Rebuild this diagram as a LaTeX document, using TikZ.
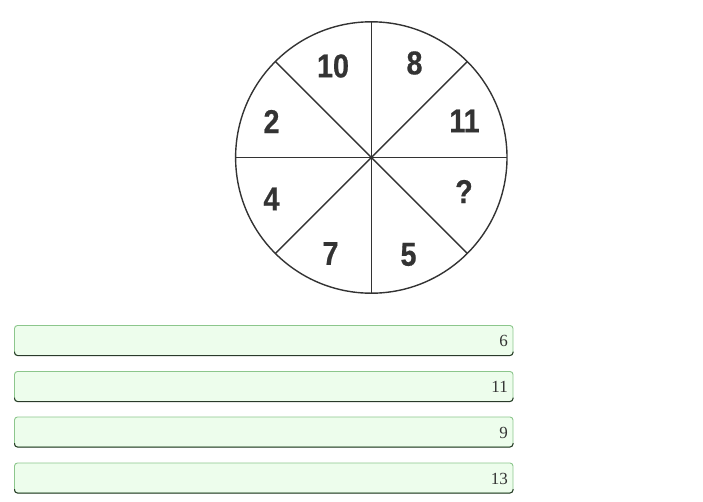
\documentclass[tikz,border=0pt]{standalone}
\usepackage{fontspec}
\newfontfamily\condb[FakeStretch=0.87,FakeBold=0.6]{Liberation Sans}
\newfontfamily\optfont{Liberation Serif}
\definecolor{ink}{HTML}{333333}
\definecolor{boxfill}{HTML}{EDFDEC}
\definecolor{boxedge}{HTML}{8CC68C}
\definecolor{boxdark}{HTML}{2A3A2A}
\begin{document}
\begin{tikzpicture}[x=1pt,y=-1pt,
  seg/.style={draw=ink,line width=1.4pt},
  num/.style={inner sep=0pt,text=ink,font=\condb\bfseries\fontsize{33}{33}\selectfont},
  optbox/.style={draw=boxedge,fill=boxfill,rounded corners=3pt,line width=0.9pt},
  opttext/.style={inner sep=0pt,anchor=east,text=ink,font=\optfont\fontsize{17}{18}\selectfont}]
\useasboundingbox (0,0) rectangle (703,501);
% wheel
\coordinate (c) at (371.3,157.5);
\draw[seg] (c) circle[radius=135.7];
\foreach \a in {0,45,...,315}{
  \draw[seg] (c) -- ++(\a:135.7);
}
\node[num] (n10) at (333,66) {10};
\node[num] (n8) at (414.5,63) {8};
\node[num] (n2) at (271.5,121.5) {2};
\node[num] (n11) at (464.5,121) {11};
\node[num] (n4) at (271.5,199) {4};
\node[num] (nq) at (464,191.5) {?};
\node[num] (n7) at (330.5,253.5) {7};
\node[num] (n5) at (408.5,254.5) {5};
% option boxes
\foreach \yt/\lab/\nm in {325.5/6/o1,371.5/11/o2,417/9/o3,463/13/o4}{
  \draw[optbox] (14.5,\yt) rectangle (513,\yt+30);
  \draw[boxdark,line width=1pt,rounded corners=3pt] (14.5,\yt+26) -- (14.5,\yt+30) -- (513,\yt+30) -- (513,\yt+26);
  \node[opttext] (\nm) at (508,\yt+15.5) {\lab};
}
\end{tikzpicture}
\end{document}
